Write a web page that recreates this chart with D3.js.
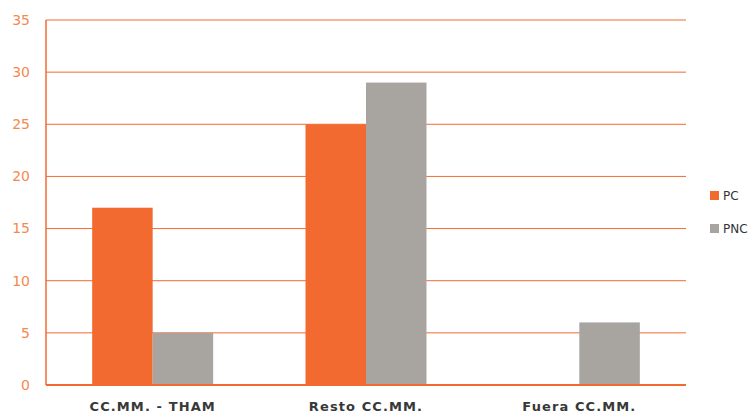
<!DOCTYPE html>
<html><head><meta charset="utf-8">
<script src="https://cdn.jsdelivr.net/npm/d3@7"></script>
<style>body{margin:0;background:#fff}svg{display:block}</style>
</head><body>
<svg id="c" width="750" height="416"></svg>
<script>
const categories = ["CC.MM. - THAM", "Resto CC.MM.", "Fuera CC.MM."];
const seriesNames = ["PC", "PNC"];
const pcValues = [17, 25, 0];
const pncValues = [5, 29, 6];
const yTicks = [0, 5, 10, 15, 20, 25, 30, 35];
const colors = ["#f26a30", "#a8a5a1"];

const svg = d3.select("#c");
const L = 46, R = 686, T = 20, B = 385;
const x0 = d3.scaleBand().domain(categories).range([L, R]);
const barW = 60.5;
const x1 = d3.scaleBand().domain(seriesNames).range([0, barW * 2]);
const y = d3.scaleLinear().domain([0, 35]).range([B, T]);
const off = (x0.bandwidth() - barW * 2) / 2;

// gridlines
svg.append("g").selectAll("line").data(yTicks.filter(d => d > 0)).join("line")
  .attr("x1", L).attr("x2", R).attr("y1", d => y(d)).attr("y2", d => y(d))
  .attr("stroke", "#f26a30").attr("stroke-width", 1);

// tick labels
svg.append("g").selectAll("text").data(yTicks).join("text")
  .attr("x", 30).attr("y", d => y(d)).attr("dy", "0.35em")
  .attr("text-anchor", "end").attr("font-family", "Verdana, DejaVu Sans, sans-serif")
  .attr("font-size", 14).attr("fill", "#f5884f").text(d => d);

// bars
const data = categories.map((c, i) => ({c, vals: [pcValues[i], pncValues[i]]}));
const g = svg.append("g");
data.forEach(d => {
  d.vals.forEach((v, j) => {
    if (v <= 0) return;
    g.append("rect")
      .attr("x", x0(d.c) + off + x1(seriesNames[j]))
      .attr("y", y(v)).attr("width", x1.bandwidth()).attr("height", B - y(v))
      .attr("fill", colors[j]);
  });
});

// axes lines
svg.append("line").attr("x1", L).attr("x2", L).attr("y1", T).attr("y2", B)
  .attr("stroke", "#f26a30").attr("stroke-width", 1.5);
svg.append("line").attr("x1", L).attr("x2", R).attr("y1", B).attr("y2", B)
  .attr("stroke", "#f26a30").attr("stroke-width", 2);

// category labels
svg.append("g").selectAll("text").data(categories).join("text")
  .attr("x", d => x0(d) + x0.bandwidth() / 2).attr("y", 411)
  .attr("text-anchor", "middle").attr("font-family", "Verdana, DejaVu Sans, sans-serif")
  .attr("font-size", 13).attr("font-weight", "bold").attr("letter-spacing", "1.1px")
  .attr("fill", "#383838").text(d => d);

// legend
const lg = svg.append("g").attr("transform", "translate(710,196)");
seriesNames.forEach((s, i) => {
  lg.append("rect").attr("x", 0).attr("y", i * 33 - 5).attr("width", 9).attr("height", 9).attr("fill", colors[i]);
  lg.append("text").attr("x", 13).attr("y", i * 33).attr("dy", "0.35em")
    .attr("font-family", "Verdana, DejaVu Sans, sans-serif").attr("font-size", 12)
    .attr("fill", "#333").text(s);
});
</script>
</body></html>
